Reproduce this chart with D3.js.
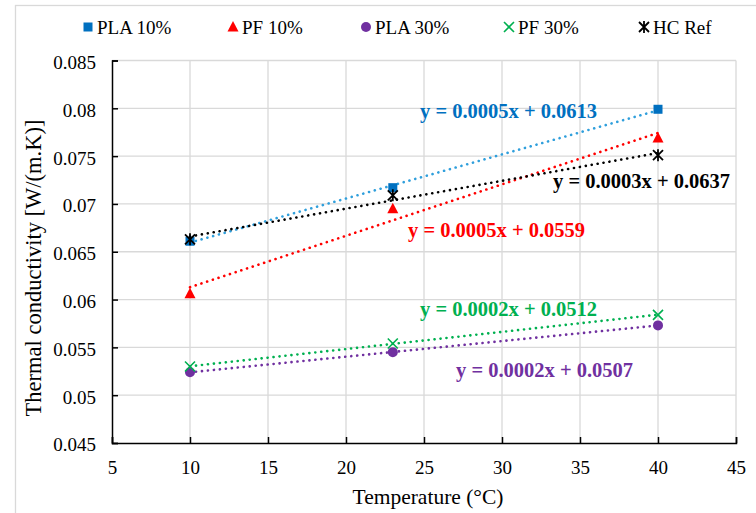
<!DOCTYPE html>
<html>
<head>
<meta charset="utf-8">
<script src="https://cdn.jsdelivr.net/npm/d3@7"></script>
<style>
  html, body { margin: 0; padding: 0; background: #fff; }
  svg { display: block; }
  text { font-family: "Liberation Serif", "Times New Roman", serif; }
</style>
</head>
<body>
<svg id="chart" width="756" height="513"></svg>
<script>
// ---- data ----
const temperatures = [10, 23, 40];
const pla10 = [0.0661, 0.0717, 0.0799];
const pf10  = [0.0606, 0.0695, 0.0769];
const pla30 = [0.0524, 0.0545, 0.0573];
const pf30  = [0.0530, 0.0554, 0.0584];
const hcRef = [0.0663, 0.0709, 0.0751];
const seriesNames = ["PLA 10%", "PF 10%", "PLA 30%", "PF 30%", "HC Ref"];
const equations = ["y = 0.0005x + 0.0613", "y = 0.0005x + 0.0559", "y = 0.0002x + 0.0507", "y = 0.0002x + 0.0512", "y = 0.0003x + 0.0637"];
const xTicks = [5, 10, 15, 20, 25, 30, 35, 40, 45];
const yTicks = [0.045, 0.05, 0.055, 0.06, 0.065, 0.07, 0.075, 0.08, 0.085];

// ---- styles / layout ----
const styles = [
  { marker: "square",   color: "#0070c0", trend: "#2f9fdc", eqColor: "#0070c0", eqPos: [420, 118] },
  { marker: "triangle", color: "#ff0000", trend: "#ff0000", eqColor: "#ff0000", eqPos: [408, 237] },
  { marker: "circle",   color: "#7030a0", trend: "#7030a0", eqColor: "#7030a0", eqPos: [456, 377] },
  { marker: "x",        color: "#00b050", trend: "#00b050", eqColor: "#00b050", eqPos: [420, 316] },
  { marker: "star",     color: "#000000", trend: "#000000", eqColor: "#000000", eqPos: [553, 188] }
];
const legendPos = [88, 233, 366, 509, 644];

const svg = d3.select("#chart");
const x = d3.scaleLinear().domain([5, 45]).range([112, 736]);
const y = d3.scaleLinear().domain([0.045, 0.085]).range([443, 60.5]);

// outer frame
svg.append("rect").attr("x", 15.5).attr("y", 5.5).attr("width", 780).attr("height", 540)
  .attr("fill", "none").attr("stroke", "#d9d9d9").attr("stroke-width", 1.3);

// gridlines
svg.append("g").selectAll("line").data(xTicks.slice(1)).join("line")
  .attr("x1", d => x(d)).attr("x2", d => x(d)).attr("y1", y(0.085)).attr("y2", y(0.045))
  .attr("stroke", "#d9d9d9").attr("stroke-width", 1.3);
svg.append("g").selectAll("line").data(yTicks.slice(1)).join("line")
  .attr("y1", d => y(d)).attr("y2", d => y(d)).attr("x1", x(5)).attr("x2", x(45))
  .attr("stroke", "#d9d9d9").attr("stroke-width", 1.3);

// axes
const xAxis = d3.axisBottom(x).tickValues(xTicks).tickSize(-6).tickPadding(14).tickFormat(d3.format("d"));
const yAxis = d3.axisLeft(y).tickValues(yTicks).tickSize(-6).tickPadding(16).tickFormat(d => String(+d.toFixed(3)));
const gx = svg.append("g").attr("transform", `translate(0,${y(0.045)})`).call(xAxis);
const gy = svg.append("g").attr("transform", `translate(${x(5)},0)`).call(yAxis);
[gx, gy].forEach(g => {
  g.select(".domain").attr("stroke", "#000").attr("stroke-width", 1.5);
  g.selectAll(".tick line").attr("stroke", "#000").attr("stroke-width", 1.5);
  g.selectAll(".tick text").style("font-family", "'Liberation Serif', serif").style("font-size", "19px").style("fill", "#000");
});
gx.selectAll(".tick text").attr("dy", "0.9em");
gy.selectAll(".tick text").attr("dy", "0.42em");

// axis titles
svg.append("text").attr("x", 428).attr("y", 504).attr("text-anchor", "middle")
  .style("font-size", "21.5px").style("fill", "#000").text("Temperature (°C)");
svg.append("text").attr("transform", "translate(41,268) rotate(-90)").attr("text-anchor", "middle")
  .style("font-size", "22.5px").style("fill", "#000").text("Thermal conductivity [W/(m.K)]");

// series
const allSeries = [pla10, pf10, pla30, pf30, hcRef];

function regression(xs, ys) {
  const mx = d3.mean(xs), my = d3.mean(ys);
  const sxy = d3.sum(xs, (v, i) => (v - mx) * (ys[i] - my));
  const sxx = d3.sum(xs, v => (v - mx) ** 2);
  const m = sxy / sxx;
  return { m, b: my - m * mx };
}

function drawMarker(g, type, color, cx, cy) {
  if (type === "square") {
    g.append("rect").attr("x", cx - 4.5).attr("y", cy - 4.5).attr("width", 9).attr("height", 9).attr("fill", color);
  } else if (type === "triangle") {
    g.append("path").attr("d", `M${cx},${cy - 6}L${cx + 5.5},${cy + 4.5}L${cx - 5.5},${cy + 4.5}Z`).attr("fill", color);
  } else if (type === "circle") {
    g.append("circle").attr("cx", cx).attr("cy", cy).attr("r", 5).attr("fill", color);
  } else if (type === "x") {
    g.append("path").attr("d", `M${cx - 5},${cy - 5}L${cx + 5},${cy + 5}M${cx - 5},${cy + 5}L${cx + 5},${cy - 5}`)
      .attr("stroke", color).attr("stroke-width", 1.6).attr("fill", "none");
  } else if (type === "star") {
    g.append("path").attr("d", `M${cx - 5},${cy - 5}L${cx + 5},${cy + 5}M${cx - 5},${cy + 5}L${cx + 5},${cy - 5}M${cx},${cy - 6}L${cx},${cy + 6}`)
      .attr("stroke", color).attr("stroke-width", 1.8).attr("fill", "none");
  }
}

const trendG = svg.append("g");
const markG = svg.append("g");
allSeries.forEach((vals, i) => {
  const st = styles[i];
  const r = regression(temperatures, vals);
  const x0 = d3.min(temperatures), x1 = d3.max(temperatures);
  trendG.append("line")
    .attr("x1", x(x0)).attr("y1", y(r.m * x0 + r.b))
    .attr("x2", x(x1)).attr("y2", y(r.m * x1 + r.b))
    .attr("stroke", st.trend).attr("stroke-width", 2.6)
    .attr("stroke-linecap", "round").attr("stroke-dasharray", "0.1 5.9");
});
allSeries.forEach((vals, i) => {
  const st = styles[i];
  const g = markG.append("g");
  temperatures.forEach((t, j) => drawMarker(g, st.marker, st.color, x(t), y(vals[j])));
});

// equations
allSeries.forEach((vals, i) => {
  const st = styles[i];
  svg.append("text").attr("x", st.eqPos[0]).attr("y", st.eqPos[1])
    .style("font-size", "20.5px").style("font-weight", "bold").style("fill", st.eqColor)
    .text(equations[i]);
});

// legend
seriesNames.forEach((name, i) => {
  const st = styles[i];
  const g = svg.append("g");
  drawMarker(g, st.marker, st.color, legendPos[i], 27);
  g.append("text").attr("x", legendPos[i] + 9).attr("y", 33.5).style("font-size", "19px").style("fill", "#000").text(name);
});
</script>
</body>
</html>
